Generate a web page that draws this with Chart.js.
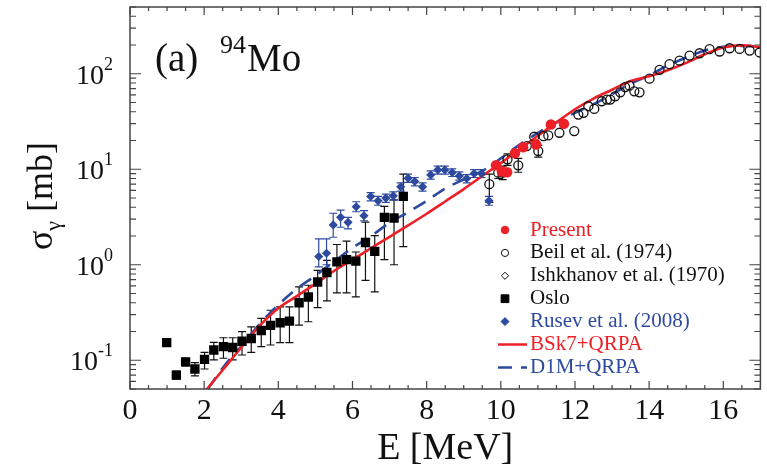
<!DOCTYPE html>
<html>
<head>
<meta charset="utf-8">
<script src="https://cdn.jsdelivr.net/npm/chart.js@4.4.1/dist/chart.umd.min.js"></script>
<style>
  html, body { margin: 0; padding: 0; background: #fff; }
</style>
</head>
<body>
<canvas id="gdrChart" width="767" height="472"></canvas>
<script>
// Axis ticks
const xTicks = [0, 2, 4, 6, 8, 10, 12, 14, 16];
const yDecades = [-1, 0, 1, 2];

// Present data (red dots)
const presentE = [9.87, 10.03, 10.17, 10.38, 10.6, 10.95, 11.35, 11.7];
const presentS = [11.0, 9.5, 9.3, 14.7, 17, 18.2, 29.4, 30];

// Beil et al. (1974)
const beilE = [9.69, 9.93, 10.05, 10.18, 10.47, 10.70, 10.90, 11.01, 11.15, 11.28, 11.58, 11.98, 12.09, 12.23, 12.36, 12.52, 12.72, 12.86, 12.95, 13.08, 13.22, 13.35, 13.47, 13.60, 13.74, 14.01, 14.28, 14.55, 14.82, 15.09, 15.36, 15.63, 15.90, 16.17, 16.44, 16.71, 16.98];
const beilS = [6.98, 9.2, 9.2, 12.7, 11.0, 17.5, 21.9, 15.5, 22.2, 22.6, 24.1, 25.1, 37.4, 39, 45.7, 42.8, 51.5, 53.7, 53.7, 58, 63.9, 72.5, 75, 65.5, 63.9, 88.7, 110, 126, 137, 155, 164, 181, 171, 185, 182, 175, 167];
const beilLo = [4.5, 8.0, 7.8, 11.0, 9.3, null, null, 13.4];
const beilHi = [8.9, 10.5, 10.8, 14.5, 13.0, null, null, 17.8];

// Ishkhanov et al. (1970) - not separable in the picture
const ishE = [];
const ishS = [];

// Oslo
const osloE = [0.99, 1.25, 1.50, 1.75, 2.01, 2.26, 2.52, 2.77, 3.02, 3.27, 3.54, 3.79, 4.05, 4.30, 4.56, 4.81, 5.06, 5.31, 5.58, 5.84, 6.09, 6.35, 6.60, 6.86, 7.12, 7.37];
const osloS = [0.153, 0.070, 0.096, 0.081, 0.102, 0.128, 0.139, 0.136, 0.158, 0.169, 0.205, 0.232, 0.247, 0.257, 0.40, 0.46, 0.66, 0.83, 1.07, 1.13, 1.09, 1.71, 1.38, 3.14, 3.09, 5.2];
const osloLo = [null, 0.0634, 0.0873, 0.0687, 0.081, 0.101, 0.105, 0.101, 0.1135, 0.121, 0.139, 0.1445, 0.153, 0.153, 0.233, 0.253, 0.356, 0.419, 0.507, 0.507, 0.46, 0.687, 0.52, 1.13, 1.0, 1.55];
const osloHi = [null, 0.0768, 0.105, 0.0946, 0.121, 0.154, 0.172, 0.172, 0.199, 0.224, 0.274, 0.334, 0.362, 0.362, 0.586, 0.61, 0.873, 1.11, 1.63, 1.77, 1.36, 2.79, 2.02, 4.09, 4.79, 8.87];

// Rusev et al. (2008)
const rusevE = [5.09, 5.30, 5.48, 5.68, 5.88, 6.10, 6.31, 6.49, 6.69, 6.90, 7.10, 7.30, 7.50, 7.68, 7.89, 8.11, 8.30, 8.49, 8.69, 8.88, 9.08, 9.28, 9.48, 9.68];
const rusevS = [1.22, 1.32, 2.61, 3.14, 2.78, 4.05, 3.26, 5.19, 4.67, 4.99, 5.27, 6.54, 8.06, 7.45, 6.54, 8.72, 9.84, 9.84, 9.23, 8.51, 8.0, 9.02, 9.02, 4.67];
const rusevLo = [0.95, 1.0, 1.94, 2.47, 2.37, 3.59, 2.89, 4.67, 4.2, 4.5, 4.75, 5.9, 7.3, 6.7, 5.9, 7.9, 8.9, 8.9, 8.4, 7.7, 7.2, 8.2, 8.2, 4.2];
const rusevHi = [1.87, 1.87, 3.46, 3.74, 3.14, 4.57, 3.68, 5.7, 5.2, 5.5, 5.8, 7.2, 8.9, 8.2, 7.2, 9.6, 10.8, 10.8, 10.1, 9.4, 8.8, 9.9, 9.9, 5.2];

// BSk7+QRPA curve
const bskE = [2.0, 2.5, 3.0, 3.5, 4.0, 4.5, 5.0, 5.5, 6.0, 6.5, 7.0, 7.5, 8.0, 8.5, 9.0, 9.5, 10.0, 10.5, 11.0, 11.5, 12.0, 12.5, 13.0, 13.5, 14.0, 14.5, 15.0, 15.5, 16.0, 16.5, 17.0];
const bskS = [0.046, 0.079, 0.136, 0.23, 0.35, 0.47, 0.63, 0.86, 1.13, 1.49, 1.96, 2.58, 3.42, 4.6, 6.2, 8.5, 11.6, 16.1, 22.4, 31, 42.5, 55, 68, 84, 94, 109, 130, 160, 188, 198, 190];

// D1M+QRPA curve
const d1mE = [2.1, 2.5, 3.0, 3.5, 4.0, 4.5, 5.0, 5.5, 6.0, 6.5, 7.0, 7.5, 8.0, 8.5, 9.0, 9.5, 10.0, 10.5, 11.0, 11.5, 12.0, 12.5, 13.0, 13.5, 14.0, 14.5, 15.0, 15.5, 16.0, 16.5, 17.0];
const d1mS = [0.05, 0.083, 0.14, 0.24, 0.38, 0.56, 0.77, 1.08, 1.5, 2.0, 2.75, 3.55, 4.67, 6.3, 7.8, 9.6, 13, 18, 24, 31, 39, 48, 61, 79, 96, 122, 148, 175, 192, 196, 192];

const RED = 'rgb(236, 32, 38)';
const BLUE = 'rgb(46, 74, 158)';
const SERIF = "'Liberation Serif', 'Times New Roman', serif";

const pts = (xs, ys) => xs.map((e, i) => ({ x: e, y: ys[i] }));

// Draw error bars under the markers, through the chart scales
const errorBars = {
    id: 'errorBars',
    beforeDatasetsDraw(chart) {
        const { ctx, chartArea: a, scales: { x, y } } = chart;
        ctx.save();
        ctx.beginPath();
        ctx.rect(a.left, a.top, a.right - a.left, a.bottom - a.top);
        ctx.clip();
        chart.data.datasets.forEach(ds => {
            if (!ds.errLo) return;
            ctx.strokeStyle = ds.errColor;
            ctx.lineWidth = 1.2;
            ds.data.forEach((p, i) => {
                const lo = ds.errLo[i], hi = ds.errHi[i];
                if (lo == null || hi == null) return;
                const px = x.getPixelForValue(p.x);
                const y1 = y.getPixelForValue(lo), y2 = y.getPixelForValue(hi);
                ctx.beginPath();
                ctx.moveTo(px, y1); ctx.lineTo(px, y2);
                ctx.moveTo(px - 4, y1); ctx.lineTo(px + 4, y1);
                ctx.moveTo(px - 4, y2); ctx.lineTo(px + 4, y2);
                ctx.stroke();
            });
        });
        ctx.restore();
    }
};

// Frame with inward ticks on all sides, y labels with exponents, titles, legend
const decorations = {
    id: 'decorations',
    afterDraw(chart) {
        const { ctx, chartArea: a, scales: { x, y } } = chart;
        ctx.save();
        ctx.strokeStyle = '#444';
        ctx.lineWidth = 1.5;
        ctx.strokeRect(a.left, a.top, a.right - a.left, a.bottom - a.top);

        ctx.lineWidth = 1.2;
        ctx.beginPath();
        for (let v = 0; v <= 17; v += 0.5) {
            const px = x.getPixelForValue(v);
            const len = v % 2 === 0 ? 8 : 4;
            ctx.moveTo(px, a.bottom); ctx.lineTo(px, a.bottom - len);
            ctx.moveTo(px, a.top); ctx.lineTo(px, a.top + len);
        }
        for (let n = -2; n <= 2; n++) {
            for (let k = 1; k <= 9; k++) {
                const v = k * Math.pow(10, n);
                if (v < y.min || v > y.max) continue;
                const py = y.getPixelForValue(v);
                const len = k === 1 ? 11 : 6;
                ctx.moveTo(a.left, py); ctx.lineTo(a.left + len, py);
                ctx.moveTo(a.right, py); ctx.lineTo(a.right - len, py);
            }
        }
        ctx.stroke();

        // y tick labels 10^n
        ctx.fillStyle = '#111';
        ctx.textBaseline = 'alphabetic';
        yDecades.forEach(n => {
            const py = y.getPixelForValue(Math.pow(10, n));
            const exp = n < 0 ? '-' + (-n) : String(n);
            ctx.font = '18px ' + SERIF;
            const ew = ctx.measureText(exp).width;
            ctx.font = '28px ' + SERIF;
            const bw = ctx.measureText('10').width;
            const right = 113;
            ctx.fillText('10', right - ew - bw, py + 10);
            ctx.font = '18px ' + SERIF;
            ctx.fillText(exp, right - ew, py - 4);
        });

        // y title: sigma_gamma [mb]
        ctx.save();
        ctx.translate(52, 196);
        ctx.rotate(-Math.PI / 2);
        const s1 = 'σ', s3 = ' [mb]';
        ctx.font = '36px ' + SERIF;
        const w1 = ctx.measureText(s1).width;
        const w3 = ctx.measureText(s3).width;
        ctx.font = '22px ' + SERIF;
        const w2 = ctx.measureText('γ').width;
        const tx = -(w1 + w2 + w3) / 2;
        ctx.font = '36px ' + SERIF;
        ctx.fillText(s1, tx, 0);
        ctx.font = '22px ' + SERIF;
        ctx.fillText('γ', tx + w1, 8);
        ctx.font = '36px ' + SERIF;
        ctx.fillText(s3, tx + w1 + w2, 0);
        ctx.restore();

        // panel label (a) 94Mo
        ctx.font = '39px ' + SERIF;
        ctx.fillText('(a)', 155, 71);
        ctx.font = '26px ' + SERIF;
        ctx.fillText('94', 220, 53);
        ctx.font = '39px ' + SERIF;
        ctx.fillText('Mo', 247, 71);

        // legend
        const textColors = [RED, '#111', '#111', '#111', BLUE, RED, BLUE];
        const legendSize = [3.8, 3.6, 3.6, 5.5, 4];
        chart.data.datasets.forEach((ds, i) => {
            const ly = 230 + i * 22.9;
            if (ds.showLine) {
                ctx.strokeStyle = ds.borderColor;
                ctx.lineWidth = 2.5;
                ctx.setLineDash(ds.borderDash || []);
                ctx.beginPath();
                ctx.moveTo(498, ly); ctx.lineTo(527, ly);
                ctx.stroke();
                ctx.setLineDash([]);
            } else {
                ctx.fillStyle = ds.backgroundColor;
                ctx.strokeStyle = ds.borderColor;
                ctx.lineWidth = 1;
                Chart.helpers.drawPoint(ctx, { pointStyle: ds.pointStyle, radius: legendSize[i], rotation: 0, borderWidth: 1 }, 505, ly);
            }
            ctx.fillStyle = textColors[i];
            ctx.font = '21px ' + SERIF;
            ctx.textBaseline = 'middle';
            ctx.fillText(ds.label, 530, ly);
        });
        ctx.restore();
    }
};

new Chart(document.getElementById('gdrChart'), {
    type: 'scatter',
    data: {
        datasets: [
            {
                label: 'Present',
                data: pts(presentE, presentS),
                pointStyle: 'circle', pointRadius: 5.3,
                backgroundColor: RED, borderColor: RED, borderWidth: 0
            },
            {
                label: 'Beil et al. (1974)',
                data: pts(beilE, beilS),
                pointStyle: 'circle', pointRadius: 4.5,
                backgroundColor: 'rgba(255,255,255,0)', borderColor: '#111', borderWidth: 1.3,
                errLo: beilLo, errHi: beilHi, errColor: '#111'
            },
            {
                label: 'Ishkhanov et al. (1970)',
                data: pts(ishE, ishS),
                pointStyle: 'rectRot', pointRadius: 4,
                backgroundColor: 'rgba(255,255,255,0)', borderColor: '#111', borderWidth: 1
            },
            {
                label: 'Oslo',
                data: pts(osloE, osloS),
                pointStyle: 'rect', pointRadius: 6.6,
                backgroundColor: '#000', borderColor: '#000', borderWidth: 0,
                errLo: osloLo, errHi: osloHi, errColor: '#111'
            },
            {
                label: 'Rusev et al. (2008)',
                data: pts(rusevE, rusevS),
                pointStyle: 'rectRot', pointRadius: 4.6,
                backgroundColor: BLUE, borderColor: BLUE, borderWidth: 0,
                errLo: rusevLo, errHi: rusevHi, errColor: BLUE
            },
            {
                label: 'BSk7+QRPA',
                data: pts(bskE, bskS),
                showLine: true, pointRadius: 0,
                borderColor: RED, borderWidth: 2.6,
                cubicInterpolationMode: 'monotone'
            },
            {
                label: 'D1M+QRPA',
                data: pts(d1mE, d1mS),
                showLine: true, pointRadius: 0,
                borderColor: BLUE, borderWidth: 2.6, borderDash: [14, 9],
                cubicInterpolationMode: 'monotone'
            }
        ]
    },
    options: {
        responsive: false,
        animation: false,
        events: [],
        layout: { padding: { top: 7, right: 6, left: 0, bottom: 0 } },
        plugins: {
            legend: { display: false },
            tooltip: { enabled: false }
        },
        scales: {
            x: {
                type: 'linear',
                min: 0, max: 17,
                afterBuildTicks: s => { s.ticks = xTicks.map(v => ({ value: v })); },
                afterFit: s => { s.height = 83; },
                ticks: { color: '#111', padding: 4, maxRotation: 0, font: { family: SERIF, size: 30 } },
                grid: { display: false, drawTicks: false },
                border: { display: false },
                title: { display: true, text: 'E [MeV]', color: '#111', padding: 0, font: { family: SERIF, size: 38 } }
            },
            y: {
                type: 'logarithmic',
                min: 0.05, max: 500,
                afterFit: s => { s.width = 130; },
                ticks: { display: false },
                grid: { display: false, drawTicks: false },
                border: { display: false }
            }
        }
    },
    plugins: [errorBars, decorations]
});
</script>
</body>
</html>
